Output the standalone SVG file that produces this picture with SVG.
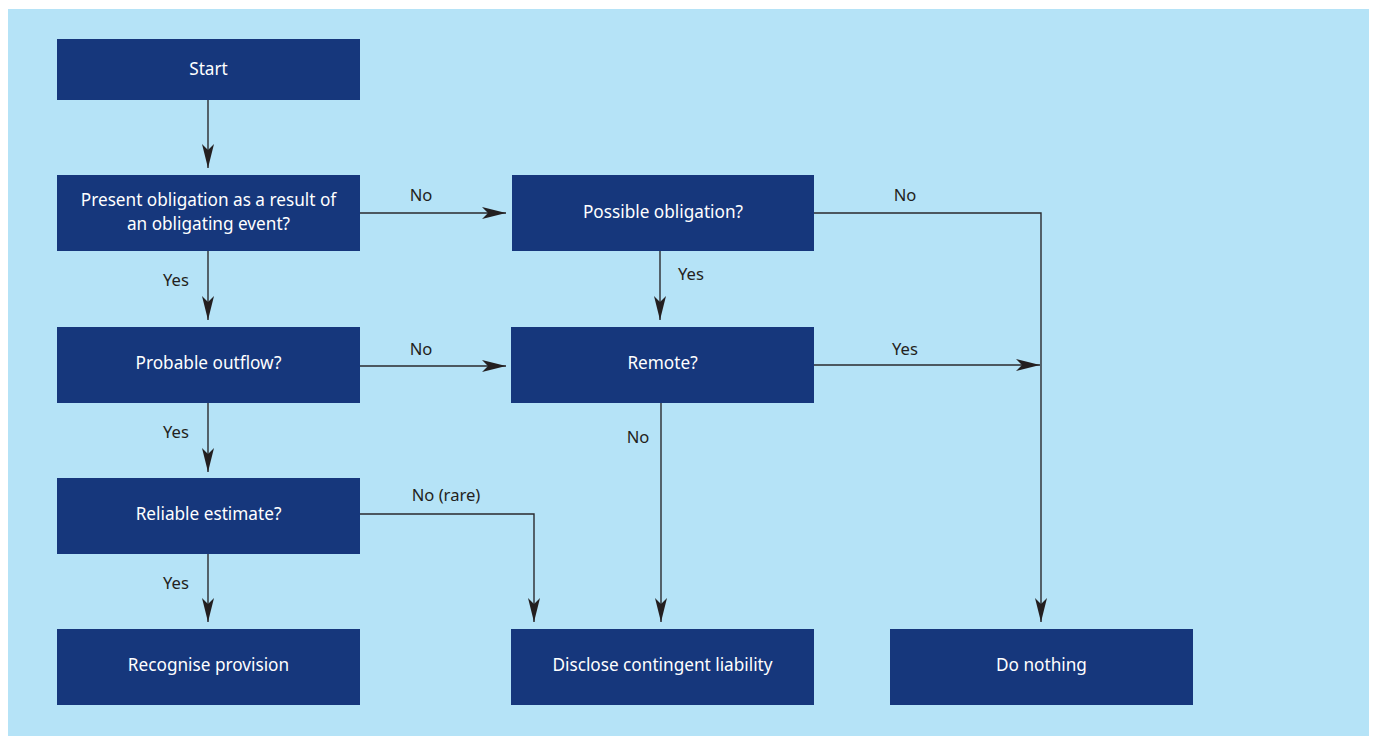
<svg xmlns="http://www.w3.org/2000/svg" width="1374" height="736" viewBox="0 0 1374 736">
<style>
.box{fill:#16377c}
.bt{fill:#ffffff;font-family:"Noto Sans","Open Sans","Liberation Sans",sans-serif;font-size:17.2px;text-anchor:middle}
.lb{fill:#231f20;font-family:"Noto Sans","Open Sans","Liberation Sans",sans-serif;font-size:16.6px;text-anchor:middle}
.cn{fill:none;stroke:#2a2a2e;stroke-width:1.4}
</style>
<defs>
<marker id="ah" viewBox="-25 -7 26 14" refX="0" refY="0" markerWidth="26" markerHeight="14" markerUnits="userSpaceOnUse" orient="auto">
<path d="M0,0 L-24,-6 L-18,0 L-24,6 Z" fill="#231f20"/>
</marker>
</defs>
<rect x="0" y="0" width="1374" height="736" fill="#ffffff"/>
<rect x="8" y="9" width="1361" height="727" fill="#b5e3f7"/>
<g id="connectors">
<path class="cn" d="M208,100 V168" marker-end="url(#ah)"/>
<path class="cn" d="M360,213 H506" marker-end="url(#ah)"/>
<path class="cn" d="M814,213 H1041 V622" marker-end="url(#ah)"/>
<path class="cn" d="M660,251 V320" marker-end="url(#ah)"/>
<path class="cn" d="M208,251 V320" marker-end="url(#ah)"/>
<path class="cn" d="M360,366 H506" marker-end="url(#ah)"/>
<path class="cn" d="M814,365 H1040" marker-end="url(#ah)"/>
<path class="cn" d="M661,403 V622" marker-end="url(#ah)"/>
<path class="cn" d="M208,403 V472" marker-end="url(#ah)"/>
<path class="cn" d="M360,514 H534 V622" marker-end="url(#ah)"/>
<path class="cn" d="M208,554 V622" marker-end="url(#ah)"/>
<text class="lb" x="421" y="201">No</text>
<text class="lb" x="905" y="201">No</text>
<text class="lb" x="691" y="280">Yes</text>
<text class="lb" x="176" y="286">Yes</text>
<text class="lb" x="421" y="355">No</text>
<text class="lb" x="905" y="355">Yes</text>
<text class="lb" x="638" y="443">No</text>
<text class="lb" x="176" y="438">Yes</text>
<text class="lb" x="446" y="501">No (rare)</text>
<text class="lb" x="176" y="589">Yes</text>
</g>
<g id="start"><rect class="box" x="57" y="39" width="303" height="61"/><text class="bt" x="208.5" y="74.5">Start</text></g>
<g id="present"><rect class="box" x="57" y="175" width="303" height="76"/><text class="bt" x="208.5" y="206">Present obligation as a result of</text><text class="bt" x="208.5" y="230">an obligating event?</text></g>
<g id="possible"><rect class="box" x="512" y="175" width="302" height="76"/><text class="bt" x="663" y="218">Possible obligation?</text></g>
<g id="probable"><rect class="box" x="57" y="327" width="303" height="76"/><text class="bt" x="208.5" y="369">Probable outflow?</text></g>
<g id="remote"><rect class="box" x="511" y="327" width="303" height="76"/><text class="bt" x="662.5" y="369">Remote?</text></g>
<g id="reliable"><rect class="box" x="57" y="478" width="303" height="76"/><text class="bt" x="208.5" y="520">Reliable estimate?</text></g>
<g id="recognise"><rect class="box" x="57" y="629" width="303" height="76"/><text class="bt" x="208.5" y="671">Recognise provision</text></g>
<g id="disclose"><rect class="box" x="511" y="629" width="303" height="76"/><text class="bt" x="662.5" y="671">Disclose contingent liability</text></g>
<g id="nothing"><rect class="box" x="890" y="629" width="303" height="76"/><text class="bt" x="1041.5" y="671">Do nothing</text></g>
</svg>
